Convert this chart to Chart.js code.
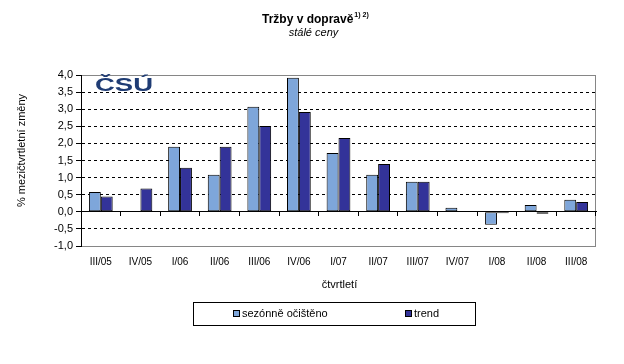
<!DOCTYPE html>
<html><head><meta charset="utf-8">
<script src="https://cdn.jsdelivr.net/npm/chart.js@4/dist/chart.umd.min.js"></script>
<style>html,body{margin:0;padding:0;background:#fff}canvas{display:block}</style>
</head><body>
<canvas id="c" width="624" height="364" style="width:624px;height:364px"></canvas>
<script>
const categories = ['III/05','IV/05','I/06','II/06','III/06','IV/06','I/07','II/07','III/07','IV/07','I/08','II/08','III/08'];
const seasonallyAdjusted = [0.58, 0, 1.9, 1.08, 3.07, 3.92, 1.72, 1.08, 0.88, 0.12, -0.38, 0.2, 0.35];
const trend = [0.45, 0.68, 1.29, 1.9, 2.51, 2.92, 2.16, 1.4, 0.88, 0, -0.04, -0.06, 0.29];
const seriesNames = ['sezónně očištěno', 'trend'];
const yTickValues = [-1, -0.5, 0, 0.5, 1, 1.5, 2, 2.5, 3, 3.5, 4];
const titleText = 'Tržby v dopravě';
const titleSup = '1) 2)';
const subtitleText = 'stálé ceny';
const yTitle = '% mezičtvrtletní změny';
const xTitle = 'čtvrtletí';
const logoText = 'ČSÚ';

const COLORS = ['#7EA6DA', '#333399'];
const FONT = '"Liberation Sans", Arial, sans-serif';
Chart.defaults.font.family = FONT;
Chart.defaults.color = '#000';

const decor = {
  id: 'decor',
  beforeDraw(chart) {
    const ctx = chart.ctx, a = chart.chartArea;
    ctx.save();
    ctx.fillStyle = '#fff';
    ctx.fillRect(0, 0, chart.width, chart.height);
    ctx.strokeStyle = '#868686';
    ctx.lineWidth = 1;
    ctx.strokeRect(Math.round(a.left) + 0.5, Math.round(a.top) + 0.5, Math.round(a.right - a.left) - 1, Math.round(a.bottom - a.top));
    ctx.restore();
  },
  afterDraw(chart) {
    const ctx = chart.ctx, a = chart.chartArea;
    ctx.save();
    // title
    ctx.fillStyle = '#000';
    ctx.textBaseline = 'middle';
    ctx.textAlign = 'left';
    ctx.font = 'bold 12px ' + FONT;
    ctx.fillText(titleText, 262, 20);
    const tw = ctx.measureText(titleText).width;
    ctx.font = 'bold 7px ' + FONT;
    ctx.fillText(titleSup, 262 + tw + 1, 15);
    ctx.textAlign = 'center';
    ctx.font = 'italic 11px ' + FONT;
    ctx.fillText(subtitleText, 313.5, 33);
    // x title
    ctx.font = '11px ' + FONT;
    ctx.fillText(xTitle, (a.left + a.right) / 2 + 1, 285);
    // y title
    ctx.save();
    ctx.translate(22, (a.top + a.bottom) / 2 - 10);
    ctx.rotate(-Math.PI / 2);
    ctx.fillText(yTitle, 0, 0);
    ctx.restore();
    // legend
    ctx.strokeStyle = '#000';
    ctx.lineWidth = 1;
    ctx.strokeRect(193.5, 302.5, 282, 23);
    const items = [{x: 233}, {x: 405}];
    ctx.textAlign = 'left';
    ctx.font = '11px ' + FONT;
    chart.data.datasets.forEach((ds, i) => {
      const x = items[i].x;
      ctx.fillStyle = ds.backgroundColor;
      ctx.fillRect(x + 0.5, 310.5, 6, 6);
      ctx.strokeRect(x + 0.5, 310.5, 6, 6);
      ctx.fillStyle = '#000';
      ctx.fillText(ds.label, x + 9, 314);
    });
    // logo
    ctx.save();
    ctx.fillStyle = '#1F3C74';
    ctx.font = 'bold 18px ' + FONT;
    ctx.textAlign = 'left';
    ctx.textBaseline = 'alphabetic';
    ctx.translate(95, 91);
    const lw = ctx.measureText(logoText).width;
    ctx.scale(58 / lw, 1);
    ctx.fillText(logoText, 0, 0);
    ctx.restore();
    ctx.restore();
  }
};

new Chart(document.getElementById('c'), {
  type: 'bar',
  data: {
    labels: categories,
    datasets: [
      {label: seriesNames[0], data: seasonallyAdjusted, backgroundColor: COLORS[0], borderColor: '#000', borderWidth: 1, borderSkipped: false, xAxisID: 'x'},
      {label: seriesNames[1], data: trend, backgroundColor: COLORS[1], borderColor: '#000', borderWidth: 1, borderSkipped: false, xAxisID: 'x'}
    ]
  },
  options: {
    responsive: false,
    animation: false,
    devicePixelRatio: 1,
    layout: {padding: {left: 0, top: 75, right: 28, bottom: 88}},
    plugins: {legend: {display: false}, title: {display: false}, tooltip: {enabled: false}},
    datasets: {bar: {categoryPercentage: 0.6, barPercentage: 1}},
    scales: {
      y: {
        min: -1, max: 4,
        afterFit(s) { s.width = 81; },
        afterBuildTicks(s) { s.ticks = yTickValues.map(v => ({value: v})); },
        ticks: {
          font: {size: 11}, color: '#000', padding: 3,
          callback: v => v.toFixed(1).replace('.', ',')
        },
        grid: {
          color: c => (c.tick && (c.tick.value === 0 || c.tick.value === 4 || c.tick.value === -1)) ? 'rgba(0,0,0,0)' : '#000',
          lineWidth: 1, tickLength: 5, tickColor: '#000', drawTicks: true
        },
        border: {display: true, color: '#000', width: 1, dash: [3, 3]}
      },
      x: {
        type: 'category',
        position: {y: 0},
        ticks: {display: false},
        grid: {display: true, drawOnChartArea: false, drawTicks: true, tickLength: 4, tickColor: '#000', offset: true},
        border: {display: true, color: '#000', width: 1}
      },
      x2: {
        type: 'category',
        axis: 'x',
        position: 'bottom',
        labels: categories,
        offset: true,
        afterFit(s) { s.height = 30; },
        ticks: {font: {size: 10}, color: '#000', padding: 10, maxRotation: 0, autoSkip: false},
        grid: {display: false, drawTicks: false},
        border: {display: false}
      }
    }
  },
  plugins: [decor]
});
</script>
</body></html>
